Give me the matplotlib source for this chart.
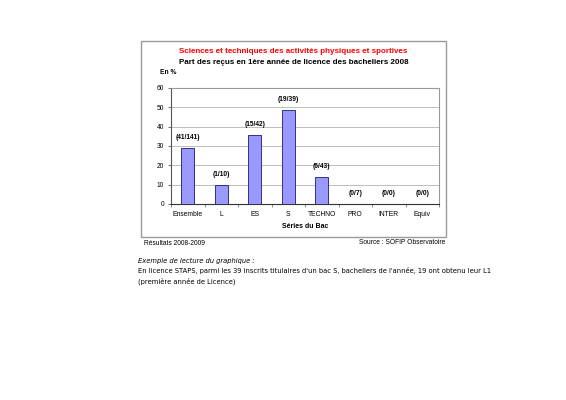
import matplotlib.pyplot as plt
from matplotlib.patches import Rectangle
import numpy as np

# data
series = ["Ensemble", "L", "ES", "S", "TECHNO", "PRO", "INTER", "Equiv"]
admitted = [41, 1, 15, 19, 6, 0, 0, 0]
enrolled = [141, 10, 42, 39, 43, 7, 0, 0]
percent = [29.1, 10.0, 35.7, 48.7, 14.0, 0, 0, 0]

title_1 = "Sciences et techniques des activités physiques et sportives"
title_2 = "Part des reçus en 1ère année de licence des bacheliers 2008"
note_head = "Exemple de lecture du graphique :"
note_lines = ["En licence STAPS, parmi les 39 inscrits titulaires d'un bac S, bacheliers de l'année, 19 ont obtenu leur L1",
              "(première année de Licence)"]

W, H = 566, 400
plt.rcParams['font.family'] = ['Liberation Sans', 'DejaVu Sans']

fig = plt.figure(figsize=(W / 100, H / 100), dpi=100)


def fx(px):
    return px / W


def fy(py):
    return 1 - py / H


# outer frame of the chart
fig.patches.append(Rectangle((fx(141), fy(237)), fx(446) - fx(141), fy(41) - fy(237),
                             transform=fig.transFigure, fill=False,
                             edgecolor="#9a9a9a", linewidth=1.0))

ax = fig.add_axes([fx(171), fy(204), fx(439) - fx(171), fy(88) - fy(204)])
x = np.arange(len(series))
ax.bar(x, percent, width=0.4, color="#9999ff", edgecolor="#1a1a6e", linewidth=0.6, zorder=3)

for xi, a, n, p in zip(x, admitted, enrolled, percent):
    ax.annotate(f"({a}/{n})", (xi, p), xytext=(0, 5), textcoords="offset points",
                ha="center", va="bottom", fontsize=4.8, fontweight="bold")

ax.set_xlim(-0.5, len(series) - 0.5)
ax.set_ylim(0, 60)
ax.set_yticks(range(0, 61, 10))
ax.yaxis.grid(True, color="#bdbdbd", linewidth=0.7, zorder=0)
ax.set_xticks(x)
ax.set_xticklabels(series)
ax.set_xticks(np.arange(-0.5, len(series)), minor=True)
ax.tick_params(axis="x", which="major", length=0, labelsize=4.9, pad=5)
ax.tick_params(axis="x", which="minor", length=2, width=0.6, color="#777777")
ax.tick_params(axis="y", length=2, width=0.6, labelsize=4.8, pad=3, color="#555555")
for side in ["top", "right"]:
    ax.spines[side].set_color("#9a9a9a")
    ax.spines[side].set_linewidth(0.8)
ax.spines["left"].set_color("#555555")
ax.spines["left"].set_linewidth(0.8)
ax.spines["bottom"].set_color("#333333")
ax.spines["bottom"].set_linewidth(0.8)
ax.set_xlabel("Séries du Bac", fontsize=5.0, fontweight="bold", labelpad=4)

fig.text(fx(293.5), fy(51.5), title_1, color="#ff0000", fontsize=5.8, fontweight="bold",
         ha="center", va="center")
fig.text(fx(293.5), fy(63), title_2, color="black", fontsize=5.8, fontweight="bold",
         ha="center", va="center")
fig.text(fx(160), fy(73), "En %", fontsize=4.8, fontweight="bold", ha="left", va="center")

fig.text(fx(144), fy(243.5), "Résultats 2008-2009", fontsize=4.8, ha="left", va="center")
fig.text(fx(445), fy(242.5), "Source : SOFIP Observatoire", fontsize=4.8, ha="right", va="center")

fig.text(fx(137.5), fy(261), note_head, fontsize=4.9, style="italic", ha="left", va="center",
         family="DejaVu Sans")
for i, line in enumerate(note_lines):
    fig.text(fx(137.5), fy(271 + 10 * i), line, fontsize=4.9, ha="left", va="center",
             family="DejaVu Sans")

fig.savefig("out.png", dpi=100)
